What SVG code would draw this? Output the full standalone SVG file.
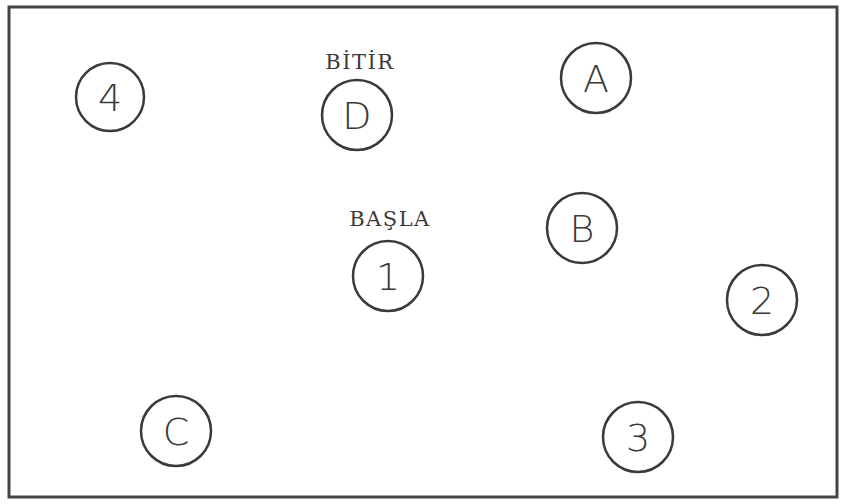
<svg xmlns="http://www.w3.org/2000/svg" width="844" height="504" viewBox="0 0 844 504">
<style>
.n circle{fill:none;stroke:#3a3a3a;stroke-width:2.5}
.n text{font-family:"DejaVu Sans","Liberation Sans",sans-serif;font-size:38px;fill:#3a3a3a;text-anchor:middle;dominant-baseline:central;font-weight:300}
.lbl{font-family:"DejaVu Serif","Liberation Serif",serif;font-size:21px;fill:#3a3a3a;text-anchor:middle;letter-spacing:1.5px}
</style>
<rect x="0" y="0" width="844" height="504" fill="#fff"/>
<rect x="9" y="7" width="828" height="490" fill="none" stroke="#444" stroke-width="3"/>
<g id="connectors"></g>
<g id="n4" class="n"><circle cx="110" cy="97" r="34"/><text x="110" y="98">4</text></g>
<g id="nD" class="n"><circle cx="357" cy="115" r="35"/><text x="357" y="116">D</text></g>
<text class="lbl" x="360" y="69">BİTİR</text>
<g id="nA" class="n"><circle cx="596" cy="78" r="35"/><text x="596" y="79">A</text></g>
<g id="nB" class="n"><circle cx="582" cy="228" r="35"/><text x="582" y="229">B</text></g>
<g id="n1" class="n"><circle cx="388" cy="276" r="35"/><text x="388" y="277">1</text></g>
<text class="lbl" x="390" y="226">BAŞLA</text>
<g id="n2" class="n"><circle cx="762" cy="300" r="35"/><text x="762" y="301">2</text></g>
<g id="nC" class="n"><circle cx="176" cy="431" r="35"/><text x="176" y="432">C</text></g>
<g id="n3" class="n"><circle cx="638" cy="437" r="35"/><text x="638" y="438">3</text></g>
</svg>
